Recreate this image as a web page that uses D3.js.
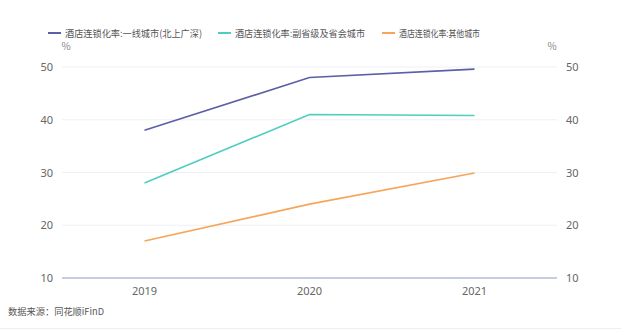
<!DOCTYPE html>
<html><head><meta charset="utf-8">
<script src="https://cdn.jsdelivr.net/npm/d3@7/dist/d3.min.js"></script>
<style>
body{margin:0;background:#fff;}
svg{display:block;font-family:"Noto Sans CJK SC","Noto Sans",sans-serif;}
</style></head>
<body><svg id="c" width="621" height="332"></svg>
<script>
const categories = ["2019","2020","2021"];
const seriesNames = ["酒店连锁化率:一线城市(北上广深)","酒店连锁化率:副省级及省会城市","酒店连锁化率:其他城市"];
const tier1 = [38.0, 48.0, 49.6];
const provincial = [28.0, 41.0, 40.8];
const others = [17.0, 24.0, 29.9];
const yTicks = [10, 20, 30, 40, 50];
const colors = ["#5a5fa6", "#4ecdc0", "#f6a55a"];

const svg = d3.select("#c");
const L = 62, R = 557, T = 67, B = 278;
const x = d3.scaleBand().domain(categories).range([L, R]);
const y = d3.scaleLinear().domain([10, 50]).range([B, T]);

// grid
svg.append("g").selectAll("line").data(yTicks.filter(d => d !== 10)).join("line")
  .attr("x1", L).attr("x2", R).attr("y1", d => y(d)).attr("y2", d => y(d))
  .attr("stroke", "#eef0f6").attr("stroke-width", 1);
// baseline
svg.append("line").attr("x1", L).attr("x2", R).attr("y1", y(10)).attr("y2", y(10))
  .attr("stroke", "#8e9bbd").attr("stroke-width", 1);

// axes
const la = svg.append("g").attr("transform", `translate(${L},0)`)
  .call(d3.axisLeft(y).tickValues(yTicks).tickSize(0).tickPadding(9).tickFormat(d3.format("d")));
la.select(".domain").remove();
const ra = svg.append("g").attr("transform", `translate(${R},0)`)
  .call(d3.axisRight(y).tickValues(yTicks).tickSize(0).tickPadding(9).tickFormat(d3.format("d")));
ra.select(".domain").remove();
const xa = svg.append("g").attr("transform", `translate(0,${B})`)
  .call(d3.axisBottom(x).tickSize(0).tickPadding(9));
xa.select(".domain").remove();
svg.selectAll(".tick text").attr("fill", "#666").attr("font-size", 11)
  .attr("font-family", "'Noto Sans','Noto Sans CJK SC',sans-serif");

// units
svg.append("text").attr("x", 66).attr("y", 50).attr("text-anchor", "middle")
  .attr("font-size", 10).attr("fill", "#888").text("%");
svg.append("text").attr("x", 552).attr("y", 50).attr("text-anchor", "middle")
  .attr("font-size", 10).attr("fill", "#888").text("%");

// lines
const data = [tier1, provincial, others];
const line = d3.line().x((d, i) => x(categories[i]) + x.bandwidth() / 2).y(d => y(d));
svg.append("g").selectAll("path").data(data).join("path")
  .attr("d", line).attr("fill", "none")
  .attr("stroke", (d, i) => colors[i]).attr("stroke-width", 1.6);

// legend
const legX = [48, 218, 382];
const legW = [137, 130, 81];
const lg = svg.append("g").selectAll("g").data(seriesNames).join("g")
  .attr("transform", (d, i) => `translate(${legX[i]},33)`);
lg.append("line").attr("x1", 0).attr("x2", 13).attr("y1", 0).attr("y2", 0)
  .attr("stroke", (d, i) => colors[i]).attr("stroke-width", 2);
lg.append("text").attr("x", 17).attr("y", 3.5).attr("font-size", 9.6).attr("fill", "#555")
  .attr("textLength", (d, i) => legW[i]).attr("lengthAdjust", "spacingAndGlyphs").text(d => d);

// source
svg.append("text").attr("x", 8).attr("y", 315).attr("font-size", 9.3).attr("fill", "#555")
  .attr("textLength", 96).attr("lengthAdjust", "spacingAndGlyphs").text("数据来源：同花顺iFinD");
svg.append("line").attr("x1", 0).attr("x2", 621).attr("y1", 328.5).attr("y2", 328.5)
  .attr("stroke", "#eeeeee");
</script></body></html>
